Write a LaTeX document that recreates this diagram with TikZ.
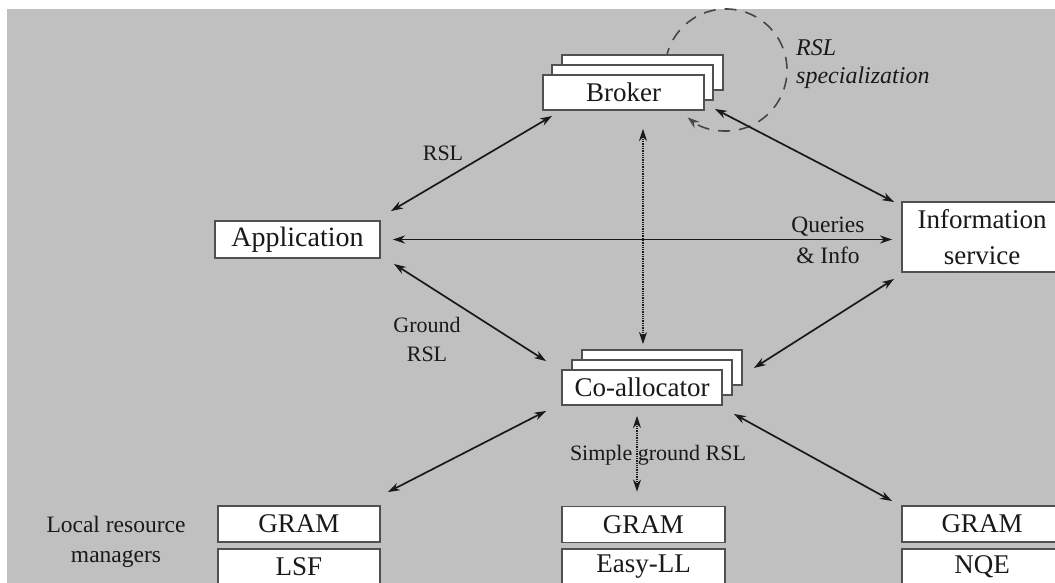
\documentclass[tikz,border=0pt]{standalone}
\usepackage{fontspec}
\setmainfont{Liberation Serif}
\usetikzlibrary{arrows.meta,calc}
\definecolor{bg}{RGB}{192,192,192}
\definecolor{ink}{RGB}{25,25,25}
\definecolor{edge}{RGB}{80,80,80}
\tikzset{
  box/.style={draw=edge, fill=white, line width=1.9pt, inner sep=0pt,
    minimum height=35pt, text=ink, font=\fontsize{27}{36}\selectfont, align=center},
  conn/.style={<->, >={Stealth[length=12pt,width=8pt]}, line width=1.7pt, ink},
  dotconn/.style={<->, >={Stealth[length=12pt,width=8pt]}, line width=1.3pt, ink, densely dotted},
  lbl/.style={text=ink, font=\fontsize{22}{29}\selectfont, align=center, inner sep=0pt},
}
\begin{document}
\begin{tikzpicture}[x=1pt,y=-1pt]
\clip (0,0) rectangle (1055,583);
\useasboundingbox (0,0) rectangle (1055,583);
\fill[white] (0,0) rectangle (1055,583);
\fill[bg] (7,9) rectangle (1055,583);

% RSL specialization loop (behind the broker stack)
\draw[->, >={Stealth[length=12pt,width=8pt]}, line width=1.6pt, ink!80, dash pattern=on 12pt off 9pt]
  (726,70) ++(170:61) arc[start angle=170, end angle=489, radius=61];

% Broker stack
\node[box, minimum width=161pt] (broker3) at (642.5,72.5) {};
\node[box, minimum width=161pt] (broker2) at (632.5,82.5) {};
\node[box, minimum width=161pt] (broker)  at (623.5,92.5) {Broker};

% Co-allocator stack
\node[box, minimum width=160pt] (coalloc3) at (662,367.5) {};
\node[box, minimum width=160pt] (coalloc2) at (652,377.5) {};
\node[box, minimum width=160pt] (coalloc)  at (642,387.5) {Co-allocator};

% Application and information service
\node[box, minimum width=165pt, minimum height=37pt, font=\fontsize{28}{36}\selectfont] (app) at (297.5,239.5) {Application};
\node[box, minimum width=160pt, minimum height=70pt] (info) at (982,237) {Information\\service};

% Local resource managers
\node[box, minimum width=162pt, minimum height=36pt] (gramL) at (299,524) {GRAM};
\node[box, minimum width=162pt, minimum height=36pt] (lsf)   at (299,567) {LSF};
\node[box, minimum width=163pt, minimum height=36pt] (gramM) at (643.5,524.5) {GRAM};
\node[box, minimum width=163pt, minimum height=36pt] (easy)  at (643.5,567) {Easy-LL};
\node[box, minimum width=160pt, minimum height=36pt] (gramR) at (982,524) {GRAM};
\node[box, minimum width=160pt, minimum height=36pt] (nqe)   at (982,567) {NQE};

% Labels
\node[lbl] (lrsl) at (443,153) {RSL};
\node[lbl] (lground) at (427,339) {Ground\\RSL};
\node[lbl, font=\fontsize{23.5}{30}\selectfont] (lqueries) at (828,240) {Queries\\[1pt]\& Info};
\node[lbl] (lsimple) at (658,455) {Simple ground RSL};
\node[lbl, font=\fontsize{23.5}{30}\selectfont] (llocal) at (116,542) {Local resource\\managers};
\node[lbl, font=\itshape\fontsize{24}{28}\selectfont, align=left, anchor=west] (lspec) at (796,64) {RSL\\specialization};

% Connectors
\draw[conn] ([shift={(10,-9)}]app.north east) -- ([shift={(10,5)}]broker.south west);
\draw[conn] ([shift={(13,5)}]app.south east) -- ([shift={(-15,-8)}]coalloc.north west);
\draw[conn] ([xshift=12pt]app.east) -- ($(app.east -| info.west)+(-9,0)$);
\draw[dotconn] ($(coalloc3.north |- broker.south)+(-19,18)$) -- ([shift={(-19,-5)}]coalloc3.north);
\draw[conn] ([shift={(-7,1)}]info.north west) -- ([shift={(1,8)}]broker2.south east);
\draw[conn] ([shift={(-7,6)}]info.south west) -- ([shift={(11,0.5)}]coalloc3.east);
\draw[conn] ([shift={(-15,5)}]coalloc.south west) -- ([shift={(7,-13)}]gramL.north east);
\draw[conn] ([shift={(11,8)}]coalloc.south east) -- ([shift={(-9,-4)}]gramR.north west);
\draw[dotconn] ([shift={(-5,10)}]coalloc.south) -- ($(coalloc.south |- gramM.north)+(-5,-14)$);
\end{tikzpicture}
\end{document}
